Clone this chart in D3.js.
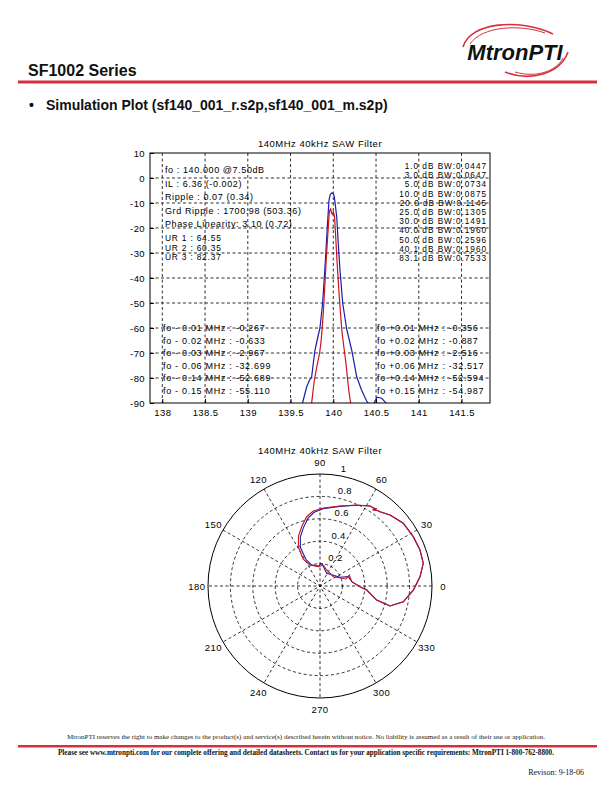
<!DOCTYPE html>
<html>
<head>
<meta charset="utf-8">
<script src="https://cdn.jsdelivr.net/npm/d3@7"></script>
<style>
  html, body { margin: 0; padding: 0; background: #fff; }
  svg { display: block; }
</style>
</head>
<body>
<svg id="page" width="612" height="792"></svg>
<script>
// ---------------- DATA ----------------
const chartTitle = "140MHz 40kHz SAW Filter";
const xTicks = [138, 138.5, 139, 139.5, 140, 140.5, 141, 141.5];
const yTicks = [10, 0, -10, -20, -30, -40, -50, -60, -70, -80, -90];

// Series 1 (blue, sf140_001_r.s2p) frequency MHz / dB
const freqBlue = [139.62, 139.649, 139.689, 139.72, 139.747, 139.766, 139.786, 139.82, 139.844, 139.86, 139.875, 139.885, 139.895, 139.91, 139.93, 139.95, 139.965, 139.985, 140.0, 140.012, 140.04, 140.058, 140.078, 140.11, 140.157, 140.215, 140.274, 140.33, 140.39, 140.43, 140.47, 140.51, 140.566, 140.617, 140.65];
const dbBlue   = [-93, -88.8, -83.5, -81, -79.5, -74.1, -68.8, -63.5, -60, -55, -50, -45, -40, -31.5, -19.5, -8.8, -6.5, -5.9, -6.3, -7.5, -15.5, -26.1, -36.8, -50.1, -60.5, -68.8, -79.5, -84.8, -89.2, -91, -90.5, -87.7, -88.1, -90, -93];

// Series 2 (red, sf140_001_m.s2p)
const freqRed = [139.735, 139.747, 139.76, 139.778, 139.81, 139.84, 139.858, 139.87, 139.883, 139.9, 139.915, 139.934, 139.95, 139.96, 139.97, 139.98, 139.99, 140.0, 140.01, 140.015, 140.028, 140.045, 140.07, 140.1, 140.125, 140.148, 140.168, 140.185, 140.203, 140.215];
const dbRed   = [-94, -90, -86, -81, -75, -70, -65, -60, -54.1, -43.5, -34.1, -23.5, -15, -12.8, -12.3, -14, -14.5, -13.5, -14.8, -15.5, -23.5, -34.1, -47.5, -61, -68, -74.1, -80.8, -86, -90, -93];

const infoLeft = ["fo : 140.000 @7.50dB", "IL : 6.36 (-0.002)", "Ripple : 0.07 (0.34)", "Grd Ripple : 1700.98 (503.36)", "Phase Linearity: 3.10 (0.72)"];
const infoUR = ["UR 1 : 64.55", "UR 2 : 60.35", "UR 3 : 82.37"];
const infoBW = ["1.0 dB BW:0.0447", "3.0 dB BW:0.0647", "5.0 dB BW:0.0734", "10.0 dB BW:0.0875", "20.0 dB BW:0.1145", "25.0 dB BW:0.1305", "30.0 dB BW:0.1491", "40.0 dB BW:0.1960", "50.0 dB BW:0.2596", "40.1 dB BW:0.1960", "83.1 dB BW:0.7533"];
const infoLow = ["fo - 0.01 MHz : -0.267", "fo - 0.02 MHz : -0.633", "fo - 0.03 MHz : -2.967", "fo - 0.06 MHz : -32.699", "fo - 0.14 MHz : -52.689", "fo - 0.15 MHz : -55.110"];
const infoHigh = ["fo +0.01 MHz : -0.356", "fo +0.02 MHz : -0.887", "fo +0.03 MHz : -2.516", "fo +0.06 MHz : -32.517", "fo +0.14 MHz : -52.594", "fo +0.15 MHz : -54.987"];

// Polar plot: angle (deg) and magnitude
const angleTicks = [0, 30, 60, 90, 120, 150, 180, 210, 240, 270, 300, 330];
const ringTicks = [0.2, 0.4, 0.6, 0.8, 1];
const thetaRed = [81.1, 95.0, 115.5, 122.2, 118.9, 113.3, 107.2, 100.9, 95.1, 87.6, 76.0, 65.6, 58.0, 55.5, 54.0, 55.2, 52.5, 51.1, 45.4, 37.0, 27.9, 19.8, 12.4, 5.3, -2.5, -10.7, -15.9, -13.9, -4.9, -1.0, 7.7, 20.6, 15.1, 35.0, 67.3, 81.1];
const magRed   = [0.190, 0.173, 0.208, 0.285, 0.401, 0.486, 0.554, 0.630, 0.672, 0.697, 0.736, 0.794, 0.842, 0.845, 0.850, 0.828, 0.848, 0.853, 0.890, 0.931, 0.942, 0.949, 0.944, 0.897, 0.834, 0.757, 0.650, 0.521, 0.419, 0.357, 0.286, 0.280, 0.240, 0.145, 0.155, 0.190];
const thetaBlue = [85.7, 95.0, 112.0, 118.0, 117.0, 112.0, 106.0, 100.0, 94.5, 87.6, 76.0, 65.6, 58.0, 55.5, 54.2, 55.0, 52.3, 51.1, 45.4, 37.0, 27.9, 19.8, 12.4, 5.3, -2.5, -10.7, -15.9, -13.9, -4.9, -1.0, 7.7, 18.2, 23.5, 62.2, 85.7];
const magBlue   = [0.203, 0.178, 0.205, 0.270, 0.385, 0.470, 0.540, 0.615, 0.660, 0.690, 0.733, 0.792, 0.842, 0.846, 0.852, 0.832, 0.849, 0.853, 0.890, 0.931, 0.942, 0.949, 0.944, 0.897, 0.834, 0.757, 0.650, 0.521, 0.419, 0.357, 0.286, 0.266, 0.195, 0.128, 0.203];

// ---------------- DRAW ----------------
const svg = d3.select("#page");
const FONT = "'Liberation Sans', Arial, sans-serif";
const BLUE = "#1c1ca8", RED = "#c8141e", BRAND = "#d6303c";

// Header
const logo = svg.append("g");
logo.append("path").attr("d", "M463,47 C470,22 520,18 553,34").attr("fill", "none").attr("stroke", BRAND).attr("stroke-width", 1.6);
logo.append("path").attr("d", "M470,44 C482,26 520,24 545,33").attr("fill", "none").attr("stroke", BRAND).attr("stroke-width", 1);
logo.append("path").attr("d", "M505,72 C530,82 560,74 568,52").attr("fill", "none").attr("stroke", BRAND).attr("stroke-width", 1.6);
logo.append("path").attr("d", "M515,72 C535,78 556,72 563,58").attr("fill", "none").attr("stroke", BRAND).attr("stroke-width", 1);
logo.append("text").attr("x", 515).attr("y", 60).attr("text-anchor", "middle")
  .attr("font-family", FONT).attr("font-weight", "bold").attr("font-style", "italic")
  .attr("font-size", 22).attr("fill", "#111").text("MtronPTI");

svg.append("text").attr("x", 28).attr("y", 76).attr("font-family", FONT).attr("font-weight", "bold")
  .attr("font-size", 16).attr("fill", "#111").text("SF1002 Series");
svg.append("rect").attr("x", 18).attr("y", 80.5).attr("width", 579).attr("height", 3).attr("fill", BRAND);
svg.append("text").attr("x", 29).attr("y", 110).attr("font-family", FONT).attr("font-weight", "bold")
  .attr("font-size", 14).attr("fill", "#111").text("\u2022");
svg.append("text").attr("x", 46).attr("y", 110).attr("font-family", FONT).attr("font-weight", "bold")
  .attr("font-size", 14).attr("fill", "#111").text("Simulation Plot (sf140_001_r.s2p,sf140_001_m.s2p)");

// ---------- Top chart ----------
const P = {l: 150, r: 490, t: 153, b: 403};
const x = d3.scaleLinear().domain([137.856, 141.833]).range([P.l, P.r]);
const y = d3.scaleLinear().domain([-90, 10]).range([P.b, P.t]);
const topG = svg.append("g");

topG.append("text").attr("x", 320).attr("y", 146.5).attr("text-anchor", "middle")
  .attr("font-family", FONT).attr("font-size", 9.5).attr("letter-spacing", 0.5).attr("fill", "#000").text(chartTitle);

// grid
const grid = topG.append("g").attr("stroke", "#000").attr("stroke-width", 1).attr("stroke-dasharray", "3,2.5").attr("opacity", 0.8);
grid.selectAll("line.v").data(xTicks).join("line")
  .attr("x1", d => x(d)).attr("x2", d => x(d)).attr("y1", P.t).attr("y2", P.b);
grid.selectAll("line.h").data(yTicks.filter(d => d < 10 && d > -90)).join("line")
  .attr("x1", P.l).attr("x2", P.r).attr("y1", d => y(d)).attr("y2", d => y(d));

// curves
const clip = svg.append("clipPath").attr("id", "plotclip");
clip.append("rect").attr("x", P.l).attr("y", P.t).attr("width", P.r - P.l).attr("height", P.b - P.t);
const line = d3.line().x(d => x(d[0])).y(d => y(d[1]));
const curves = topG.append("g").attr("clip-path", "url(#plotclip)");
curves.append("path").datum(d3.zip(freqBlue, dbBlue)).attr("d", line)
  .attr("fill", "none").attr("stroke", BLUE).attr("stroke-width", 1.2);
curves.append("path").datum(d3.zip(freqRed, dbRed)).attr("d", line)
  .attr("fill", "none").attr("stroke", RED).attr("stroke-width", 1.2);

// axes
const xAxis = d3.axisBottom(x).tickValues(xTicks).tickSize(-4).tickPadding(6).tickFormat(d3.format("~g"));
const yAxis = d3.axisLeft(y).tickValues(yTicks).tickSize(-4).tickPadding(5).tickFormat(d3.format("~g"));
const gx = topG.append("g").attr("transform", `translate(0,${P.b})`).call(xAxis);
const gy = topG.append("g").attr("transform", `translate(${P.l},0)`).call(yAxis);
[gx, gy].forEach(g => {
  g.selectAll("text").attr("font-family", FONT).attr("font-size", 9.5).attr("letter-spacing", 0.4).attr("fill", "#000");
  g.select(".domain").remove();
  g.selectAll("line").attr("stroke", "#000");
});
gy.selectAll("text").text(d => d < 0 ? "-" + Math.abs(d) : d);
topG.append("rect").attr("x", P.l).attr("y", P.t).attr("width", P.r - P.l).attr("height", P.b - P.t)
  .attr("fill", "none").attr("stroke", "#000").attr("stroke-width", 1);

// annotation text
const ann = topG.append("g").attr("font-family", FONT).attr("fill", "#000");
ann.selectAll("text.a").data(infoLeft).join("text").attr("class", "a")
  .attr("font-size", 9).attr("letter-spacing", 0.6)
  .attr("x", 165).attr("y", (d, i) => 173 + i * 13.6).text(d => d);
ann.selectAll("text.u").data(infoUR).join("text").attr("class", "u")
  .attr("font-size", 8.4).attr("letter-spacing", 0.8)
  .attr("x", 165).attr("y", (d, i) => 241 + i * 9.6).text(d => d);
ann.selectAll("text.b").data(infoBW).join("text").attr("class", "b")
  .attr("font-size", 8.2).attr("letter-spacing", 1.0)
  .attr("x", 487).attr("y", (d, i) => 169 + i * 9.2).attr("text-anchor", "end").text(d => d);
ann.selectAll("text.l").data(infoLow).join("text").attr("class", "l")
  .attr("font-size", 9).attr("letter-spacing", 0.7)
  .attr("x", 163).attr("y", (d, i) => 331 + i * 12.5).text(d => d);
ann.selectAll("text.h").data(infoHigh).join("text").attr("class", "h")
  .attr("font-size", 9).attr("letter-spacing", 0.7)
  .attr("x", 377).attr("y", (d, i) => 331 + i * 12.5).text(d => d);

// ---------- Polar chart ----------
const cx = 320, cy = 586;
const rS = d3.scaleLinear().domain([0, 1]).range([0, 112]);
const pol = svg.append("g");
pol.append("text").attr("x", 320).attr("y", 454).attr("text-anchor", "middle")
  .attr("font-family", FONT).attr("font-size", 9.5).attr("letter-spacing", 0.5).attr("fill", "#000").text(chartTitle);
const pg = pol.append("g").attr("transform", `translate(${cx},${cy})`);
const rad = a => a * Math.PI / 180;
// spokes (full diameters)
pg.selectAll("line.sp").data(angleTicks.filter(a => a < 180)).join("line")
  .attr("x1", a => rS(1) * Math.cos(rad(a))).attr("y1", a => -rS(1) * Math.sin(rad(a)))
  .attr("x2", a => -rS(1) * Math.cos(rad(a))).attr("y2", a => rS(1) * Math.sin(rad(a)))
  .attr("stroke", "#000").attr("stroke-width", 1).attr("stroke-dasharray", "3,2.5").attr("opacity", 0.8);
// rings
pg.selectAll("circle.rg").data(ringTicks).join("circle")
  .attr("r", d => rS(d)).attr("fill", "none").attr("stroke", "#000").attr("stroke-width", 1)
  .attr("stroke-dasharray", d => d < 1 ? "3,2.5" : null).attr("opacity", d => d < 1 ? 0.8 : 1);
// ring labels
pg.selectAll("text.rl").data(ringTicks).join("text")
  .attr("x", d => rS(d + 0.01) * Math.cos(rad(82)) + 5)
  .attr("y", d => -rS(d + 0.01) * Math.sin(rad(82)) - 2)
  .attr("font-family", FONT).attr("font-size", 9.5).attr("letter-spacing", 0.4).attr("fill", "#000").text(d => d);
// angle labels
pg.selectAll("text.al").data(angleTicks).join("text")
  .attr("x", a => rS(1.1) * Math.cos(rad(a)))
  .attr("y", a => -rS(1.1) * Math.sin(rad(a)) + 3.5)
  .attr("text-anchor", "middle").attr("font-family", FONT).attr("font-size", 9.5).attr("letter-spacing", 0.4).attr("fill", "#000").text(a => a);
// curves
const radial = d3.lineRadial().angle(d => rad(90 - d[0])).radius(d => rS(d[1]));
pg.append("path").datum(d3.zip(thetaBlue, magBlue)).attr("d", radial)
  .attr("fill", "none").attr("stroke", BLUE).attr("stroke-width", 1.1);
pg.append("path").datum(d3.zip(thetaRed, magRed)).attr("d", radial)
  .attr("fill", "none").attr("stroke", RED).attr("stroke-width", 1.1);

// ---------- Footer ----------
const SERIF = "'Liberation Serif', 'Times New Roman', serif";
svg.append("text").attr("x", 306).attr("y", 739).attr("text-anchor", "middle").attr("font-family", SERIF)
  .attr("font-size", 7).attr("fill", "#222")
  .text("MtronPTI reserves the right to make changes to the product(s) and service(s) described herein without notice. No liability is assumed as a result of their use or application.");
svg.append("rect").attr("x", 18).attr("y", 745).attr("width", 579).attr("height", 2.5).attr("fill", BRAND);
svg.append("text").attr("x", 306).attr("y", 755).attr("text-anchor", "middle").attr("font-family", SERIF)
  .attr("font-size", 7.2).attr("font-weight", "bold").attr("fill", "#111")
  .text("Please see www.mtronpti.com for our complete offering and detailed datasheets. Contact us for your application specific requirements: MtronPTI 1-800-762-8800.");
svg.append("text").attr("x", 584).attr("y", 775).attr("text-anchor", "end").attr("font-family", SERIF)
  .attr("font-size", 8).attr("fill", "#111").text("Revison: 9-18-06");
</script>
</body>
</html>
